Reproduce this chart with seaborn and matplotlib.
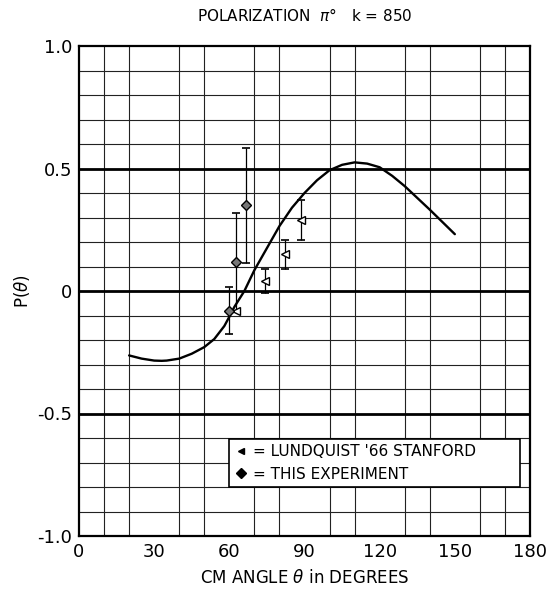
import matplotlib
matplotlib.use("Agg")
import matplotlib.pyplot as plt
import seaborn as sns
import pandas as pd
import numpy as np
from matplotlib.lines import Line2D

# Theory curve
curve_angle = [20, 25, 30, 33, 35, 40, 45, 50, 54, 58, 60, 62, 66, 70, 75, 80, 85,
               90, 95, 100, 105, 110, 115, 120, 125, 130, 135, 140, 145, 150]
curve_pol = [-0.263, -0.276, -0.284, -0.285, -0.284, -0.276, -0.256, -0.229,
             -0.196, -0.143, -0.105, -0.065, 0.0, 0.085, 0.175, 0.265, 0.34,
             0.40, 0.452, 0.493, 0.515, 0.525, 0.52, 0.505, 0.47, 0.428,
             0.38, 0.332, 0.282, 0.232]

# Lundquist '66 Stanford
lund_angle = [62.7, 74.3, 82.3, 88.7]
lund_pol = [-0.08, 0.04, 0.15, 0.29]
lund_err = [0.0, 0.05, 0.06, 0.08]

# This experiment
exp_angle = [60.0, 62.7, 66.8]
exp_pol = [-0.08, 0.12, 0.35]
exp_err = [0.095, 0.2, 0.235]

x_ticks = [0, 30, 60, 90, 120, 150, 180]
y_ticks = [-1.0, -0.5, 0, 0.5, 1.0]
y_tick_labels = ["-1.0", "-0.5", "0", "0.5", "1.0"]
heavy_lines = [-0.5, 0, 0.5]

sns.set_style("white")
plt.rcParams["font.family"] = ["DejaVu Sans"]
plt.rcParams["text.color"] = "black"
plt.rcParams["axes.labelcolor"] = "black"
plt.rcParams["xtick.color"] = "black"
plt.rcParams["ytick.color"] = "black"

fig = plt.figure(figsize=(5.49, 6.01), dpi=100)
ax = fig.add_subplot(1, 1, 1)
fig.subplots_adjust(left=79 / 549, right=530 / 549, top=1 - 46 / 601, bottom=1 - 536 / 601)

# Grid
ax.set_xticks(np.arange(0, 181, 10), minor=True)
ax.set_yticks(np.arange(-1.0, 1.01, 0.1), minor=True)
ax.grid(which="minor", color="#222222", linewidth=0.8, zorder=0)
for h in heavy_lines:
    ax.axhline(h, color="black", linewidth=2.0, zorder=1)

# Theory curve
curve_df = pd.DataFrame({"angle": curve_angle, "pol": curve_pol})
sns.lineplot(data=curve_df, x="angle", y="pol", color="black", linewidth=1.7,
             ax=ax, zorder=3)

# Data points
ax.errorbar(lund_angle, lund_pol, yerr=lund_err, fmt="<", color="black",
            markerfacecolor="white", markeredgecolor="black", markersize=6,
            elinewidth=0.9, capsize=3, capthick=1.2, zorder=4)
ax.errorbar(exp_angle, exp_pol, yerr=exp_err, fmt="D", color="black",
            markerfacecolor="#777777", markeredgecolor="black", markersize=5,
            elinewidth=0.9, capsize=3, capthick=1.2, zorder=4)

ax.set_xlim(0, 180)
ax.set_ylim(-1.0, 1.0)
ax.set_xticks(x_ticks)
ax.set_yticks(y_ticks)
ax.set_yticklabels(y_tick_labels)
ax.tick_params(which="both", length=0, labelsize=13, pad=5)
for s in ax.spines.values():
    s.set_linewidth(1.6)
    s.set_color("black")

ax.set_xlabel("CM ANGLE $\\theta$ in DEGREES", fontsize=12, labelpad=6)
ax.set_ylabel("P($\\theta$)", fontsize=12, labelpad=4)
ax.set_title("POLARIZATION  $\\pi$°   k = 850", fontsize=11, pad=18)

handles = [
    Line2D([], [], marker="<", linestyle="none", color="black", markersize=5),
    Line2D([], [], marker="D", linestyle="none", color="black", markersize=5),
]
leg = ax.legend(handles, ["= LUNDQUIST '66 STANFORD", "= THIS EXPERIMENT"],
                loc="lower left", bbox_to_anchor=(60, -0.8, 116, 0.2),
                bbox_transform=ax.transData, mode="expand", borderaxespad=0,
                fontsize=11, frameon=True, fancybox=False, framealpha=1,
                edgecolor="black", handlelength=0.8, handletextpad=0.4,
                labelspacing=0.5, borderpad=0.35)
leg.get_frame().set_linewidth(1.2)
leg.set_zorder(5)

fig.savefig("out.png", dpi=100)
